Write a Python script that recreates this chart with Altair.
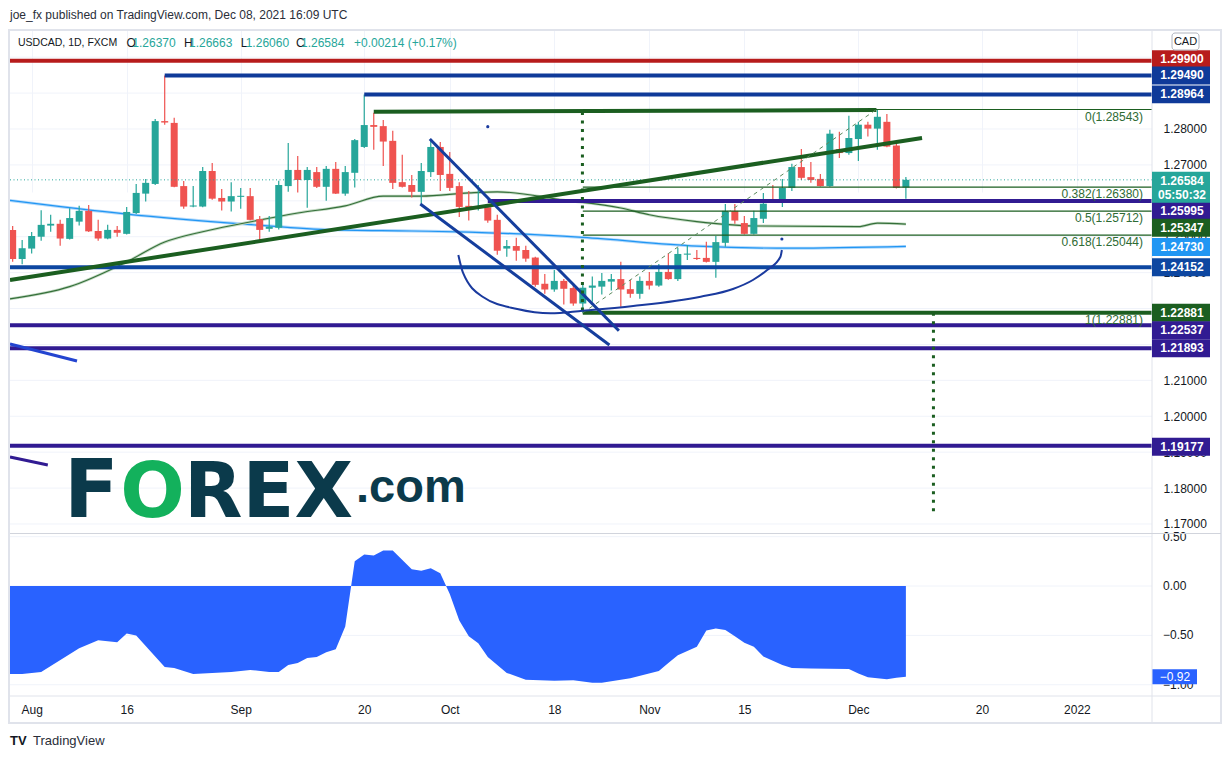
import altair as alt
import pandas as pd

FONT = "Liberation Sans"
UP = "#26a69a"
DOWN = "#ef5350"
TXT = "#131722"
GRID = "#f0f3fa"
BORDER = "#e0e3eb"

# ---------------- data ----------------
opens = [1.2519, 1.2438, 1.2467, 1.2500, 1.2531, 1.2536, 1.2494, 1.2542, 1.2572, 1.2516,
         1.2495, 1.2519, 1.2508, 1.2566, 1.2620, 1.2647, 1.2822, 1.2817, 1.2641, 1.2584,
         1.2584, 1.2683, 1.2608, 1.2598, 1.2611, 1.2613, 1.2549, 1.2522, 1.2525, 1.2641,
         1.2686, 1.2658, 1.2680, 1.2639, 1.2689, 1.2620, 1.2678, 1.2750, 1.2811, 1.2808,
         1.2767, 1.2652, 1.2644, 1.2625, 1.2680, 1.2750, 1.2675, 1.2641, 1.2586, 1.2580,
         1.2582, 1.2547, 1.2467, 1.2474, 1.2463, 1.2442, 1.2369, 1.2353, 1.2377, 1.2357,
         1.2314, 1.2358, 1.2361, 1.2375, 1.2382, 1.2354, 1.2341, 1.2377, 1.2364, 1.2402,
         1.2382, 1.2450, 1.2441, 1.2441, 1.2430, 1.2483, 1.2572, 1.2538, 1.2508, 1.2550,
         1.2603, 1.2602, 1.2636, 1.2694, 1.2666, 1.2661, 1.2641, 1.2744, 1.2733, 1.2772,
         1.2812, 1.2801, 1.2820, 1.2754, 1.26370]
highs = [1.2530, 1.2491, 1.2513, 1.2574, 1.2561, 1.2547, 1.2579, 1.2586, 1.2588, 1.2547,
         1.2533, 1.2530, 1.2583, 1.2647, 1.2661, 1.2828, 1.2949, 1.2831, 1.2655, 1.2641,
         1.2694, 1.2705, 1.2633, 1.2652, 1.2636, 1.2636, 1.2558, 1.2558, 1.2656, 1.2761,
         1.2725, 1.2694, 1.2694, 1.2697, 1.2708, 1.2697, 1.2772, 1.28964, 1.2845, 1.2825,
         1.2795, 1.2728, 1.2672, 1.2705, 1.2772, 1.2764, 1.2736, 1.2652, 1.2627, 1.2644,
         1.2588, 1.2561, 1.2491, 1.2497, 1.2475, 1.2444, 1.2396, 1.2407, 1.2382, 1.2364,
         1.2371, 1.2389, 1.2399, 1.2396, 1.2430, 1.2380, 1.2389, 1.2402, 1.2424, 1.2454,
         1.2469, 1.2477, 1.2463, 1.2486, 1.2502, 1.2591, 1.2591, 1.2558, 1.2572, 1.2622,
         1.2644, 1.2661, 1.2703, 1.2744, 1.2708, 1.2675, 1.2798, 1.2792, 1.2837, 1.2820,
         1.2820, 1.28543, 1.2842, 1.2759, 1.26663]
lows = [1.2430, 1.2423, 1.2453, 1.2489, 1.2514, 1.2475, 1.2492, 1.2531, 1.2513, 1.2489,
        1.2493, 1.2500, 1.2506, 1.2563, 1.2598, 1.2644, 1.2812, 1.2638, 1.2578, 1.2582,
        1.2582, 1.2603, 1.2573, 1.2570, 1.2578, 1.2546, 1.2491, 1.2514, 1.2520, 1.2625,
        1.2623, 1.2581, 1.2636, 1.2600, 1.2619, 1.2614, 1.2637, 1.2747, 1.2742, 1.2697,
        1.2633, 1.2637, 1.2609, 1.2592, 1.2666, 1.2627, 1.2627, 1.2555, 1.2545, 1.2573,
        1.2539, 1.2450, 1.2444, 1.2433, 1.2430, 1.2361, 1.2341, 1.2347, 1.2311, 1.2308,
        1.22881, 1.2319, 1.2339, 1.2350, 1.2305, 1.2330, 1.2327, 1.2353, 1.2361, 1.2380,
        1.2377, 1.2435, 1.2435, 1.2428, 1.2386, 1.2472, 1.2536, 1.2506, 1.2506, 1.2538,
        1.2595, 1.2583, 1.2627, 1.2658, 1.2650, 1.2640, 1.2639, 1.2719, 1.2728, 1.2711,
        1.2779, 1.2742, 1.2749, 1.2634, 1.26060]
closes = [1.2438, 1.2468, 1.2502, 1.2533, 1.2536, 1.2495, 1.2552, 1.2572, 1.2515, 1.2495,
          1.2519, 1.2511, 1.2569, 1.2622, 1.2650, 1.2822, 1.2818, 1.2639, 1.2584, 1.2587,
          1.2683, 1.2606, 1.2598, 1.2613, 1.2614, 1.2547, 1.2519, 1.2528, 1.2644, 1.2686,
          1.2658, 1.2686, 1.2639, 1.2689, 1.2620, 1.2680, 1.2769, 1.2811, 1.2806, 1.2765,
          1.2650, 1.2639, 1.2625, 1.2683, 1.2750, 1.2672, 1.2636, 1.2583, 1.2582, 1.2584,
          1.2545, 1.2461, 1.2474, 1.2461, 1.2439, 1.2366, 1.2353, 1.2377, 1.2355, 1.2314,
          1.2358, 1.2364, 1.2377, 1.2382, 1.2353, 1.2341, 1.2377, 1.2364, 1.2402, 1.2382,
          1.2452, 1.2453, 1.2438, 1.2430, 1.2485, 1.2572, 1.2545, 1.2508, 1.2552, 1.2592,
          1.2598, 1.2636, 1.2694, 1.2664, 1.2658, 1.2641, 1.2787, 1.2733, 1.2775, 1.2812,
          1.2801, 1.2834, 1.2751, 1.2636, 1.26584]

tick_idx = [2, 12, 24, 37, 46, 57, 67, 77, 89, 102, 112]
tick_lbl = ["Aug", "16", "Sep", "20", "Oct", "18", "Nov", "15", "Dec", "20", "2022"]
price_grid = [1.17, 1.18, 1.19, 1.20, 1.21, 1.22, 1.23, 1.24, 1.25, 1.26, 1.27, 1.28, 1.29, 1.30]
price_labels = [1.17, 1.18, 1.19, 1.20, 1.21, 1.23, 1.24, 1.25, 1.27, 1.28]

ma50_i = [-0.28, 6, 12, 16, 20, 24, 30, 35, 39, 43, 48, 51, 58, 64, 67, 72, 78, 89, 91, 94]
ma50_p = [1.2327, 1.2361, 1.2430, 1.2485, 1.2514, 1.2536, 1.2566, 1.2586, 1.2613, 1.2613,
          1.2622, 1.2625, 1.2602, 1.2580, 1.2561, 1.2542, 1.2530, 1.2528, 1.2538, 1.2535]
ma200_i = [-0.28, 12, 24, 33, 42, 48, 60, 72, 82, 94]
ma200_p = [1.2601, 1.2563, 1.2536, 1.2520, 1.2516, 1.2513, 1.2498, 1.2474, 1.2468, 1.2473]

osc_i = [-0.28, 1, 3, 7, 9, 11, 12, 13, 16, 17, 19, 21, 23, 25, 27, 28, 29, 30, 31, 32, 33, 34, 35,
         36, 37, 38, 39, 40, 42, 43, 44, 45, 46, 47, 48, 49, 50, 52, 54, 57, 59, 61, 62, 64, 65,
         68, 69, 70, 72, 73, 74, 75, 76, 77, 78, 79, 81, 82, 84, 88, 89, 90, 92, 93, 94]
osc_v = [-0.89, -0.89, -0.87, -0.63, -0.55, -0.57, -0.48, -0.50, -0.82, -0.83, -0.89, -0.88,
         -0.87, -0.85, -0.87, -0.87, -0.80, -0.78, -0.73, -0.72, -0.67, -0.64, -0.41,
         0.25, 0.32, 0.31, 0.36, 0.36, 0.17, 0.155, 0.18, 0.13, -0.08, -0.35, -0.51, -0.58,
         -0.72, -0.88, -0.95, -0.96, -0.955, -0.98, -0.98, -0.95, -0.935, -0.86, -0.78, -0.70,
         -0.615, -0.45, -0.43, -0.445, -0.51, -0.575, -0.615, -0.715, -0.80, -0.83, -0.835,
         -0.84, -0.885, -0.925, -0.945, -0.93, -0.92]

level_prices = [1.29900, 1.29490, 1.28964, 1.25995, 1.24152, 1.22881, 1.22537, 1.21893, 1.19177]
level_start = [-0.28, 16, 37, 50, -0.28, 60, -0.28, -0.28, -0.28]

fib_ratio = ["0", "0.382", "0.5", "0.618", "1"]
fib_price = [1.28543, 1.26380, 1.25712, 1.25044, 1.22881]
fib_start = 60

seg_x1 = [-0.28, 38.0, 43.9, 42.9, -0.28, -0.28]
seg_p1 = [1.23795, 1.28482, 1.27721, 1.25911, 1.22013, 1.18866]
seg_x2 = [95.7, 90.9, 63.8, 62.8, 6.77, 3.7]
seg_p2 = [1.27749, 1.28529, 1.22383, 1.21985, 1.21539, 1.18643]

arc_i = [46.9, 47.4, 49.5, 53.1, 56.6, 60.0, 65.3, 72.4, 75.8, 77.9, 79.4, 80.8, 80.95]
arc_p = [1.24491, 1.2399, 1.23321, 1.22987, 1.22867, 1.2294, 1.23071, 1.2333, 1.23544,
         1.23795, 1.24073, 1.24444, 1.2463]
dot_i = [50.0, 80.95]
dot_p = [1.28064, 1.24937]

vline_i = [59.96, 96.9]
vline_top = [1.2847, 1.22881]
vline_bot = [1.22881, 1.1725]

box_prices = [1.29900, 1.29490, 1.28964, 1.25995, 1.25347, 1.24730, 1.24152, 1.22881,
              1.22537, 1.21893, 1.19177]
last_price = 1.26584
countdown = "05:50:32"
osc_last = -0.92

# ---------------- styles ----------------
level_colors = ["#b71c1c", "#0f3a99", "#0f3a99", "#311b92", "#0d47a1", "#1b5e20",
                "#311b92", "#311b92", "#311b92"]
seg_colors = ["#1b5e20", "#1b5e20", "#153e9d", "#153e9d", "#2344d0", "#311b92"]
seg_widths = [4, 4, 3, 3, 3, 3]
box_colors = ["#b71c1c", "#0f3a99", "#0f3a99", "#311b92", "#1b5e20", "#2196f3", "#0d47a1",
              "#1b5e20", "#311b92", "#311b92", "#311b92"]
box_nudge = [-1.5, 0, 0, 10, 3.5, 0.5, 0, 0, 5, 0, 1]

X_DOMAIN = [-0.28, 119.9]
W, H = 1142, 666

expr = " : ".join(f"datum.value == {i} ? '{l}'" for i, l in zip(tick_idx, tick_lbl)) + " : ''"
xaxis = alt.Axis(values=tick_idx, labelExpr=expr, title=None, grid=True, gridColor=GRID,
                 domain=False, ticks=False, labelColor=TXT, labelFontSize=12, labelFont=FONT,
                 labelPadding=8, labelFlush=False, labelOverlap=False)
xs = alt.Scale(domain=X_DOMAIN, nice=False, zero=False, padding=0)
paxis = alt.Axis(orient="right", values=price_labels, format=".5f", title=None, grid=False,
                 domain=False, ticks=False, labelAlign="left", labelPadding=11,
                 labelFontSize=12, labelColor=TXT, labelFont=FONT, labelOverlap=False,
                 labelFlush=False)
ps = alt.Scale(domain=[1.16749, 1.30757], range=[503, 0], nice=False, zero=False, padding=0)
iscale = alt.Scale(domain=[-1.114, 0.527], range=[666, 504], nice=False, zero=False, padding=0)


def X(f):
    return alt.X(f, type="quantitative", scale=xs, axis=xaxis)


def PY(f):
    return alt.Y(f, type="quantitative", scale=ps, axis=paxis)


def IY(f):
    return alt.Y(f, type="quantitative", scale=iscale, axis=None)


ONE = alt.Data(values=[{"a": 1}])


def deco_text(s, x, y, size=12, color=TXT, align="left", weight="normal", baseline="middle",
              font=FONT):
    return alt.Chart(ONE).mark_text(text=s, align=align, baseline=baseline, fontSize=size,
                                    fontWeight=weight, color=color, font=font).encode(
        x=alt.value(x), y=alt.value(y))


def seg(x1, p1, x2, p2, color, width, dash=None, cap="butt"):
    df = pd.DataFrame({"a": [x1], "b": [x2], "p": [p1], "q": [p2]})
    kw = dict(color=color, strokeWidth=width, strokeCap=cap)
    if dash:
        kw["strokeDash"] = dash
    return alt.Chart(df).mark_rule(**kw).encode(x=X("a"), x2="b", y=PY("p"), y2="q")


# ---------------- price pane ----------------
idx = list(range(len(opens)))
candles = pd.DataFrame({"i": idx, "o": opens, "h": highs, "l": lows, "c": closes})
candles["dir"] = ["up" if c >= o else "down" for o, c in zip(opens, closes)]
ccol = alt.Color("dir:N", scale=alt.Scale(domain=["up", "down"], range=[UP, DOWN]), legend=None)

price_layers = []

pg = pd.DataFrame({"p": price_grid})
price_layers.append(alt.Chart(pg).mark_rule(color=GRID, strokeWidth=1)
                    .encode(x=alt.value(0), x2=alt.value(W), y=PY("p")))

ma50 = pd.DataFrame({"i": ma50_i, "p": ma50_p})
ma200 = pd.DataFrame({"i": ma200_i, "p": ma200_p})
price_layers.append(alt.Chart(ma200).mark_line(color="#b3d9fb", strokeWidth=3, interpolate="monotone")
                    .encode(x=X("i"), y=PY("p")))
price_layers.append(alt.Chart(ma200).mark_line(color="#2196f3", strokeWidth=1.2, interpolate="monotone")
                    .encode(x=X("i"), y=PY("p")))
price_layers.append(alt.Chart(ma50).mark_line(color="#c3dac3", strokeWidth=2.8, interpolate="monotone")
                    .encode(x=X("i"), y=PY("p")))
price_layers.append(alt.Chart(ma50).mark_line(color="#356f3a", strokeWidth=1.1, interpolate="monotone")
                    .encode(x=X("i"), y=PY("p")))

price_layers.append(alt.Chart(candles).mark_rule(strokeWidth=1.2)
                    .encode(x=X("i"), y=PY("l"), y2="h", color=ccol))
price_layers.append(alt.Chart(candles).mark_bar(size=7, orient="vertical")
                    .encode(x=X("i"), y=PY("o"), y2="c", color=ccol))

# current price dotted line
price_layers.append(seg(X_DOMAIN[0], last_price, X_DOMAIN[1], last_price, UP, 1, dash=[1, 2.5]))

# fib levels (thin)
for p in fib_price:
    price_layers.append(seg(fib_start, p, X_DOMAIN[1], p, "#1b5e20", 1.2))

# horizontal levels (thick)
for p, s, c in zip(level_prices, level_start, level_colors):
    price_layers.append(seg(s, p, X_DOMAIN[1], p, c, 4))

# trend lines
for a, p, b, q, c, w in zip(seg_x1, seg_p1, seg_x2, seg_p2, seg_colors, seg_widths):
    price_layers.append(seg(a, p, b, q, c, w))

# fib trend (dashed) and vertical dotted lines
price_layers.append(seg(fib_start, fib_price[-1], 90.9, fib_price[0], "#5b8a5e", 1, dash=[4, 4]))
for i, t, b in zip(vline_i, vline_top, vline_bot):
    price_layers.append(seg(i, t, i, b, "#1b5e20", 3, dash=[3, 5.5]))

# cup arc + dots
arc = pd.DataFrame({"i": arc_i, "p": arc_p, "k": list(range(len(arc_i)))})
price_layers.append(alt.Chart(arc).mark_line(color="#1a3a9e", strokeWidth=2, interpolate="monotone")
                    .encode(x=X("i"), y=PY("p"), order="k:Q"))
dots = pd.DataFrame({"i": dot_i, "p": dot_p})
price_layers.append(alt.Chart(dots).mark_point(filled=True, size=10, color="#1a3a9e", opacity=1)
                    .encode(x=X("i"), y=PY("p")))

# fib labels
fibdf = pd.DataFrame({"p": fib_price,
                      "t": [f"{r}({p:.5f})" for r, p in zip(fib_ratio, fib_price)]})
price_layers.append(alt.Chart(fibdf).mark_text(align="right", baseline="middle", dy=7, fontSize=12,
                                               font=FONT, color="#2e6b34")
                    .encode(x=alt.value(1133), y=PY("p"), text="t:N"))

# header / watermark / footer texts
price_layers.append(deco_text("joe_fx published on TradingView.com, Dec 08, 2021 16:09 UTC", 0, -15,
                              color="#2a2e39"))
price_layers.append(deco_text("USDCAD, 1D, FXCM", 8, 12.5, size=10.5))
hdr = [("O", 116.5, TXT), ("1.26370", 122.3, UP), ("H", 174, TXT), ("1.26663", 179, UP),
       ("L", 230.7, TXT), ("1.26060", 235.7, UP), ("C", 286, TXT), ("1.26584", 291, UP),
       ("+0.00214 (+0.17%)", 344, UP)]
for s, x, c in hdr:
    price_layers.append(deco_text(s, x, 12.5, color=c))

LOGO = "#0b3a4b"
LF = "DejaVu Sans"
price_layers.append(deco_text("F", 54, 487, size=80, color=LOGO, weight="bold", baseline="alphabetic",
                              font=LF))
price_layers.append(deco_text("O", 142.5, 487, size=76, color="#13b15c", weight="bold",
                              baseline="alphabetic", align="center", font=LF))
price_layers.append(deco_text("REX", 174, 487, size=76, color=LOGO, weight="bold", baseline="alphabetic",
                              font=LF))
price_layers.append(deco_text(".com", 346, 472, size=47, color=LOGO, weight="bold", baseline="alphabetic"))
price_layers.append(deco_text("TV", 0, 711, size=13, color=TXT, weight="bold"))
price_layers.append(deco_text("TradingView", 23, 711, size=13, color="#2a2e39"))

# frame lines
price_layers.append(alt.Chart(ONE).mark_rect(filled=False, stroke=BORDER, strokeWidth=2)
                    .encode(x=alt.value(-1), x2=alt.value(1211), y=alt.value(0), y2=alt.value(693)))
price_layers.append(alt.Chart(ONE).mark_rule(color=BORDER, strokeWidth=1)
                    .encode(x=alt.value(1142), x2=alt.value(1142), y=alt.value(0), y2=alt.value(693)))
price_layers.append(alt.Chart(ONE).mark_rule(color="#d1d4dc", strokeWidth=1)
                    .encode(x=alt.value(0), x2=alt.value(1211), y=alt.value(503.5), y2=alt.value(503.5)))
price_layers.append(alt.Chart(ONE).mark_rule(color=BORDER, strokeWidth=1)
                    .encode(x=alt.value(0), x2=alt.value(1211), y=alt.value(666), y2=alt.value(666)))

# right-side price label boxes
BOX = "M-1,-0.31L1,-0.31L1,0.31L-1,0.31Z"
for p, c, n in zip(box_prices, box_colors, box_nudge):
    d = pd.DataFrame({"p": [p], "t": [f"{p:.5f}"]})
    price_layers.append(alt.Chart(d).mark_point(shape=BOX, filled=True, size=3364, color=c,
                                                opacity=1, strokeWidth=0, yOffset=n)
                        .encode(x=alt.value(1171), y=PY("p")))
    price_layers.append(alt.Chart(d).mark_text(color="white", fontSize=12, fontWeight="bold",
                                               font=FONT, align="center", baseline="middle", dy=n)
                        .encode(x=alt.value(1172), y=PY("p"), text="t:N"))

d = pd.DataFrame({"p": [last_price], "t": [f"{last_price:.5f}"], "u": [countdown]})
price_layers.append(alt.Chart(d).mark_point(shape="M-1,-0.276L1,-0.276L1,0.793L-1,0.793Z", filled=True,
                                            size=3364, color=UP, opacity=1, strokeWidth=0)
                    .encode(x=alt.value(1171), y=PY("p")))
price_layers.append(alt.Chart(d).mark_text(color="white", fontSize=12, fontWeight="bold", font=FONT,
                                           align="center", baseline="middle", dy=1)
                    .encode(x=alt.value(1172), y=PY("p"), text="t:N"))
price_layers.append(alt.Chart(d).mark_text(color="white", fontSize=12, fontWeight="bold", font=FONT,
                                           align="center", baseline="middle", dy=15)
                    .encode(x=alt.value(1172), y=PY("p"), text="u:N"))

price_layers.append(alt.Chart(ONE).mark_rect(fill="white", stroke="#b2b5be", strokeWidth=1, cornerRadius=3)
                    .encode(x=alt.value(1162), x2=alt.value(1189), y=alt.value(3), y2=alt.value(20)))
price_layers.append(deco_text("CAD", 1175.5, 11.5, size=11, align="center"))

# ---------------- oscillator pane ----------------
osc_grid = [0.5, 0.0, -0.5, -1.0]
osc_lbl = ["0.50", "0.00", "\u22120.50", "\u22121.00"]
ogrid = pd.DataFrame({"v": osc_grid, "t": osc_lbl})
osc = pd.DataFrame({"i": osc_i, "v": osc_v})

ind_layers = [
    alt.Chart(ogrid).mark_rule(color=GRID, strokeWidth=1)
    .encode(x=alt.value(0), x2=alt.value(W), y=IY("v")),
    alt.Chart(osc).mark_area(color="#2962ff", opacity=1, interpolate="linear")
    .encode(x=X("i"), y=IY("v"), y2=alt.datum(0)),
    alt.Chart(ogrid).mark_text(align="left", baseline="middle", fontSize=12, font=FONT, color=TXT)
    .encode(x=alt.value(1153), y=IY("v"), text="t:N"),
]
od = pd.DataFrame({"v": [osc_last], "t": ["\u22120.92"]})
ind_layers.append(alt.Chart(od).mark_point(shape="M-1,-0.333L1,-0.333L1,0.333L-1,0.333Z", filled=True,
                                           size=2025, color="#2962ff", opacity=1, strokeWidth=0)
                  .encode(x=alt.value(1164.5), y=IY("v")))
ind_layers.append(alt.Chart(od).mark_text(color="white", fontSize=12, font=FONT, align="center",
                                          baseline="middle")
                  .encode(x=alt.value(1165), y=IY("v"), text="t:N"))

chart = alt.layer(alt.layer(*ind_layers), alt.layer(*price_layers)).resolve_scale(
    y="independent"
).properties(
    width=W, height=H,
    autosize=alt.AutoSizeParams(type="none"),
    padding={"left": 2, "top": 22, "right": 70, "bottom": 55},
).configure_view(strokeWidth=0)

chart.save("out.html", embed_options={"renderer": "svg", "actions": False})
